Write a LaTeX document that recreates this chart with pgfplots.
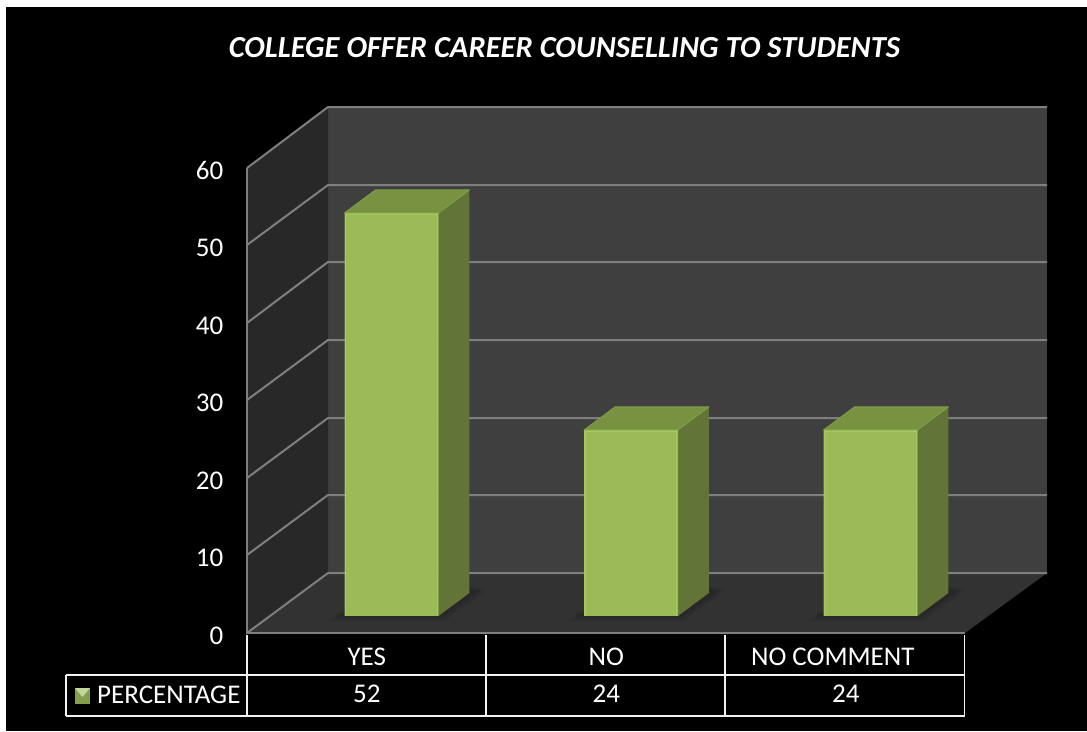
\documentclass[border=0pt]{standalone}
\usepackage{fontspec}
\setmainfont{Carlito}
\usepackage{pgfplots}
\pgfplotsset{compat=1.18}
\definecolor{backwall}{HTML}{3F3F3F}
\definecolor{sidewall}{HTML}{282828}
\definecolor{floorcol}{HTML}{323232}
\definecolor{gridcol}{HTML}{7F7F7F}
\definecolor{barfront}{HTML}{9BBB59}
\definecolor{barbevel}{HTML}{A5C75F}
\definecolor{barside}{HTML}{627536}
\definecolor{bartop}{HTML}{789242}
\definecolor{topbevel}{HTML}{7F9C46}
\definecolor{tablecol}{HTML}{F2F2F2}
\newcommand{\labelfont}{\fontsize{27}{30}\selectfont}
\begin{document}
\begin{tikzpicture}
% walls, floor, grid and table rules, in pixels of the picture
\begin{axis}[
  at={(0pt,0pt)}, anchor=south west,
  width=1087pt, height=731pt, scale only axis,
  xmin=0, xmax=1087, ymin=0, ymax=731, y dir=reverse,
  axis lines=none, clip=false]
\addplot[fill=white, draw=none] coordinates {(0,0) (1087,0) (1087,731) (0,731)} --cycle;
\addplot[fill=black, draw=none] coordinates {(6,7) (1087,7) (1087,731) (6,731)} --cycle;
\addplot[fill=backwall, draw=none] coordinates {(328,107) (1047,107) (1047,573) (328,573)} --cycle;
\addplot[fill=sidewall, draw=none] coordinates {(247,168) (328,107) (328,573) (247,633)} --cycle;
\addplot[fill=floorcol, draw=none] coordinates {(247,633) (328,573) (1047,573) (965,633)} --cycle;
% grid
\addplot[gridcol, line width=2pt] coordinates {(247,168) (328,107) (1047,107)};
\addplot[gridcol, line width=2pt] coordinates {(247,245) (328,185) (1047,185)};
\addplot[gridcol, line width=2pt] coordinates {(247,323) (328,262) (1047,262)};
\addplot[gridcol, line width=2pt] coordinates {(247,400) (328,340) (1047,340)};
\addplot[gridcol, line width=2pt] coordinates {(247,478) (328,418) (1047,418)};
\addplot[gridcol, line width=2pt] coordinates {(247,555) (328,495) (1047,495)};
\addplot[gridcol, line width=2pt] coordinates {(247,633) (328,573) (1047,573)};
\addplot[gridcol, line width=2pt] coordinates {(247,168) (247,633) (965,633)};
% floor shadows
\addplot[fill=black, fill opacity=0.09, draw=none] coordinates {(329,621) (444,621) (486,590) (470,586) (340,612)} --cycle;
\addplot[fill=black, fill opacity=0.1, draw=none] coordinates {(336,618) (442,618) (480,591) (468,589) (340,614)} --cycle;
\addplot[fill=black, fill opacity=0.09, draw=none] coordinates {(568,621) (683,621) (725,590) (709,586) (579,612)} --cycle;
\addplot[fill=black, fill opacity=0.1, draw=none] coordinates {(575,618) (681,618) (719,591) (707,589) (579,614)} --cycle;
\addplot[fill=black, fill opacity=0.09, draw=none] coordinates {(808,621) (923,621) (965,590) (949,586) (819,612)} --cycle;
\addplot[fill=black, fill opacity=0.1, draw=none] coordinates {(815,618) (921,618) (959,591) (947,589) (819,614)} --cycle;
% table
\addplot[tablecol, line width=1.8pt] coordinates {(66,675) (965,675)};
\addplot[tablecol, line width=1.8pt] coordinates {(66,716) (965,716)};
\addplot[tablecol, line width=1.8pt] coordinates {(66,675) (66,716)};
\addplot[tablecol, line width=1.8pt] coordinates {(247,635) (247,716)};
\addplot[tablecol, line width=1.8pt] coordinates {(486,635) (486,716)};
\addplot[tablecol, line width=1.8pt] coordinates {(725,635) (725,716)};
\addplot[tablecol, line width=1.8pt] coordinates {(964.5,635) (964.5,716)};
% legend key
\addplot[fill=barfront!85!black, draw=none] coordinates {(75,688) (90,688) (90,704) (75,704)} --cycle;
\addplot[fill=barfront!60!white, draw=none] coordinates {(75,688) (90,688) (82.5,697)} --cycle;
\node[anchor=base west, text=white, font=\labelfont, inner sep=0pt] at (axis cs:97,703) {PERCENTAGE};
\node[anchor=base, text=white, font=\fontsize{30.6}{33}\selectfont\bfseries\itshape] at (axis cs:564.5,57) {COLLEGE OFFER CAREER COUNSELLING TO STUDENTS};
\end{axis}

% bars: same scale as the front plane, moved back onto the floor
\begin{axis}[
  at={(271.75pt,115pt)}, anchor=south west,
  width=718.5pt, height=465pt, scale only axis,
  xmin=-0.5, xmax=2.5, ymin=0, ymax=60,
  axis lines=none, clip=false]
% side faces
\addplot[fill=barside, draw=none] coordinates {(0.196,0) (0.325,2.97) (0.325,54.97) (0.196,52)} --cycle;
\addplot[fill=barside, draw=none] coordinates {(1.196,0) (1.325,2.97) (1.325,26.97) (1.196,24)} --cycle;
\addplot[fill=barside, draw=none] coordinates {(2.196,0) (2.325,2.97) (2.325,26.97) (2.196,24)} --cycle;
% top faces
\addplot[fill=bartop, draw=topbevel, line width=1pt, line join=round] coordinates {(-0.196,52) (-0.067,54.97) (0.325,54.97) (0.196,52)} --cycle;
\addplot[fill=bartop, draw=topbevel, line width=1pt, line join=round] coordinates {(0.804,24) (0.933,26.97) (1.325,26.97) (1.196,24)} --cycle;
\addplot[fill=bartop, draw=topbevel, line width=1pt, line join=round] coordinates {(1.804,24) (1.933,26.97) (2.325,26.97) (2.196,24)} --cycle;
% front faces
\addplot[ybar, bar width=94pt, fill=barfront, draw=none] coordinates {(0,52) (1,24) (2,24)};
% bevel on the front faces
\addplot[barbevel, line width=1.4pt] coordinates {(0.191,0) (0.191,51.8) (-0.192,51.8) (-0.192,0)};
\addplot[barbevel, line width=1.4pt] coordinates {(1.191,0) (1.191,23.8) (0.808,23.8) (0.808,0)};
\addplot[barbevel, line width=1.4pt] coordinates {(2.191,0) (2.191,23.8) (1.808,23.8) (1.808,0)};
\end{axis}

% tick labels and table text, on the front plane
\begin{axis}[
  at={(247pt,98pt)}, anchor=south west,
  width=718.5pt, height=465pt, scale only axis,
  xmin=-0.5, xmax=2.5, ymin=0, ymax=60,
  axis x line=bottom, axis y line=left,
  axis line style={draw=none}, tick style={draw=none},
  clip=false,
  xtick={0,1,2}, xticklabels={YES,NO,NO COMMENT\kern26pt\mbox{}},
  ytick={0,10,...,60},
  /pgf/number format/assume math mode=true,
  tick label style={text=white, font=\labelfont},
  xticklabel style={anchor=base, yshift=-30pt},
  yticklabel style={anchor=east, xshift=-18pt, yshift=-2.5pt}]
\node[anchor=base, text=white, font=\labelfont] at (axis cs:0,-9.03) {52};
\node[anchor=base, text=white, font=\labelfont] at (axis cs:1,-9.03) {24};
\node[anchor=base, text=white, font=\labelfont] at (axis cs:2,-9.03) {24};
\end{axis}
\end{tikzpicture}
\end{document}
